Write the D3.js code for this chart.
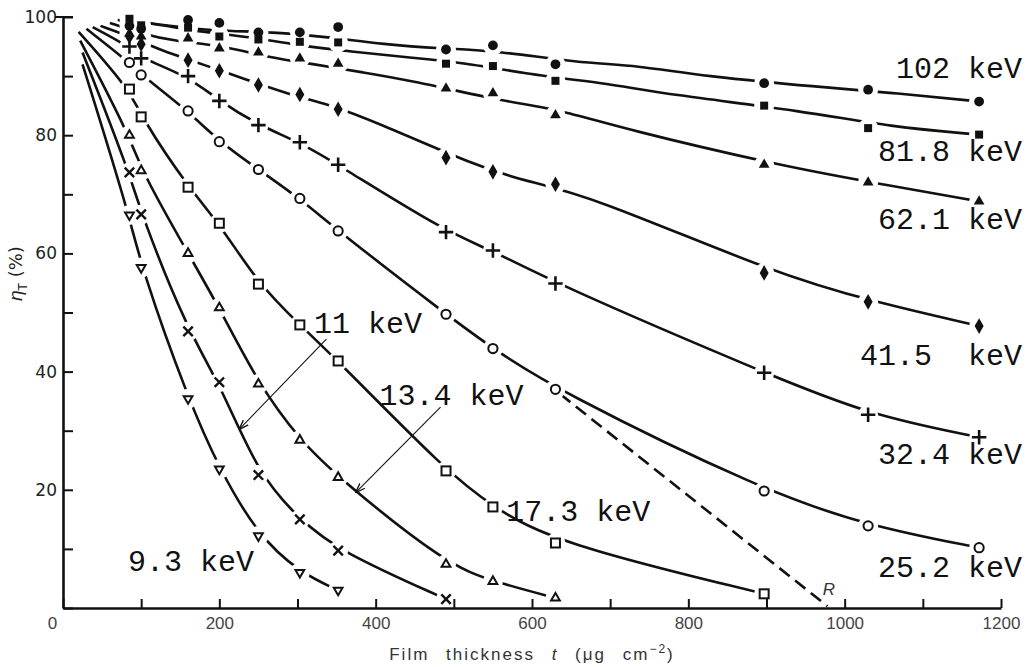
<!DOCTYPE html>
<html>
<head>
<meta charset="utf-8">
<script src="https://cdn.jsdelivr.net/npm/d3@7"></script>
<style>
  body { margin: 0; background: #fff; }
  svg { display: block; }
  .energy { font-family: "Liberation Mono", monospace; font-size: 30px; fill: #111; }
  .xtick text { font-family: "Liberation Sans", sans-serif; font-size: 17px; fill: #444; }
  .ytick text { font-family: "DejaVu Sans", sans-serif; font-size: 17px; fill: #222; }
</style>
</head>
<body>
<div id="chart"></div>
<script>

// ----------------------------------------------------------------
// Data
// ----------------------------------------------------------------

// film thickness of the samples, ug cm-2
const thickness = [85, 100, 160, 200, 250, 303, 352, 490, 550, 630, 897, 1030, 1172];

// transmission efficiency eta_T (%) per photon energy
const eta102 = [98.5, 98.0, 99.5, 99.0, 97.4, 97.4, 98.3, 94.5, 95.2, 92.0, 88.8, 87.7, 85.7];
const eta818 = [99.7, 98.6, 98.2, 96.7, 96.2, 95.8, 95.7, 92.1, 91.7, 89.2, 85.0, 81.2, 80.1];
const eta621 = [97.2, 96.7, 96.4, 94.7, 94.0, 93.0, 92.1, 87.9, 87.1, 83.4, 75.0, 72.0, 68.8];
const eta415 = [96.7, 95.4, 92.7, 90.9, 88.5, 86.9, 84.4, 76.2, 73.8, 71.7, 56.7, 51.8, 47.7];
const eta324 = [95.0, 93.0, 90.0, 85.8, 81.7, 78.8, 75.0, 63.6, 60.5, 54.9, 39.8, 32.7, 28.9];
const eta252 = [92.3, 90.2, 84.1, 78.9, 74.2, 69.3, 63.8, 49.7, 43.9, 37.0, 19.8, 13.9, 10.2];
const eta173 = [87.8, 83.1, 71.2, 65.1, 54.8, 47.9, 41.8, 23.2, 17.1, 11.0, 2.4];
const eta134 = [80.0, 74.0, 60.0, 50.8, 37.9, 28.4, 22.1, 7.4, 4.5, 1.7];
const eta110 = [73.7, 66.6, 46.8, 38.2, 22.5, 15.0, 9.7, 1.5];
const eta93 = [66.5, 57.6, 35.4, 23.5, 12.2, 6.0, 3.0];

const energyLabels = ["102 keV", "81.8 keV", "62.1 keV", "41.5  keV", "32.4 keV",
  "25.2 keV", "17.3 keV", "13.4 keV", "11 keV", "9.3 keV"];

// where each fitted curve begins (upper left)
const startThickness = [75, 70, 60, 48, 38, 30, 20, 22, 25, 25];
const startEta = [99.6, 99.5, 99.0, 98.5, 98.3, 98.0, 97.5, 96.0, 94.0, 92.0];

// dashed curve R
const rThickness = [636, 978];
const rEta = [36.2, 0.3];

const xTicks = [0, 100, 200, 300, 400, 500, 600, 700, 800, 900, 1000, 1100, 1200];
const yTicks = [0, 10, 20, 30, 40, 50, 60, 70, 80, 90, 100];

// ----------------------------------------------------------------
// Setup
// ----------------------------------------------------------------

const width = 1029;
const height = 667;
const seriesValues = [eta102, eta818, eta621, eta415, eta324, eta252, eta173, eta134, eta110, eta93];
const markerKinds = ["dot", "block", "tri", "diamond", "plus", "ring", "box", "opentri", "times", "downtri"];
// how closely each drawn curve follows its points (1 = plain b-spline)
const smoothing = [0.35, 0.5, 0.7, 0.85, 1, 1, 1, 1, 1, 1];

const svg = d3.select("#chart").append("svg")
  .attr("width", width)
  .attr("height", height);

svg.append("rect").attr("width", width).attr("height", height).attr("fill", "#fff");

const x = d3.scaleLinear().domain([0, 1200]).range([63, 1001]);
const y = d3.scaleLinear().domain([0, 100]).range([608, 17]);

svg.append("defs").append("marker")
  .attr("id", "arrow")
  .attr("viewBox", "0 0 10 10")
  .attr("refX", 9).attr("refY", 5)
  .attr("markerWidth", 9).attr("markerHeight", 9)
  .attr("orient", "auto")
  .append("path")
  .attr("d", "M0,1.5 L10,5 L0,8.5")
  .attr("fill", "none")
  .attr("stroke", "#111")
  .attr("stroke-width", 1.3);

// ----------------------------------------------------------------
// Curves
// ----------------------------------------------------------------

seriesValues.forEach(function (vals, i) {
  var pts = [[startThickness[i], startEta[i]]];
  vals.forEach((v, j) => pts.push([thickness[j], v]));
  var line = d3.line()
    .x(d => x(d[0]))
    .y(d => y(d[1]))
    .curve(d3.curveBundle.beta(smoothing[i]));
  svg.append("path")
    .datum(pts)
    .attr("d", line)
    .attr("fill", "none")
    .attr("stroke", "#111")
    .attr("stroke-width", 2.6);
});

svg.append("path")
  .datum(rThickness.map((t, i) => [t, rEta[i]]))
  .attr("d", d3.line().x(d => x(d[0])).y(d => y(d[1])))
  .attr("fill", "none")
  .attr("stroke", "#111")
  .attr("stroke-width", 2.6)
  .attr("stroke-dasharray", "13,7");

svg.append("text")
  .attr("x", x(972)).attr("y", y(2.2))
  .style("font-family", "Liberation Sans, sans-serif")
  .style("font-size", "17px")
  .style("font-style", "italic")
  .attr("fill", "#333")
  .text("R");

// ----------------------------------------------------------------
// Markers (white halo cuts the curve around each point)
// ----------------------------------------------------------------

const points = [];
seriesValues.forEach(function (vals, i) {
  vals.forEach((v, j) => points.push({ t: thickness[j], eta: v, kind: markerKinds[i] }));
});

svg.append("g").selectAll("circle")
  .data(points)
  .join("circle")
  .attr("cx", d => x(d.t))
  .attr("cy", d => y(d.eta))
  .attr("r", 10)
  .attr("fill", "#fff");

function drawMarker (g, d) {
  if (d.kind === "dot") {
    g.append("path").attr("d", d3.symbol(d3.symbolCircle, 75)()).attr("fill", "#111");
  } else if (d.kind === "block") {
    g.append("path").attr("d", d3.symbol(d3.symbolSquare, 64)()).attr("fill", "#111");
  } else if (d.kind === "tri") {
    g.append("path").attr("d", d3.symbol(d3.symbolTriangle, 50)()).attr("fill", "#111");
  } else if (d.kind === "diamond") {
    g.append("path").attr("d", d3.symbol(d3.symbolDiamond, 70)()).attr("fill", "#111");
  } else if (d.kind === "plus") {
    g.append("path").attr("d", d3.symbol(d3.symbolPlus, 70)())
      .attr("fill", "none").attr("stroke", "#111").attr("stroke-width", 2.6);
  } else if (d.kind === "times") {
    g.append("path").attr("d", d3.symbol(d3.symbolTimes, 60)())
      .attr("fill", "none").attr("stroke", "#111").attr("stroke-width", 2.4);
  } else if (d.kind === "ring") {
    g.append("circle").attr("r", 4.6)
      .attr("fill", "#fff").attr("stroke", "#111").attr("stroke-width", 2);
  } else if (d.kind === "box") {
    g.append("rect").attr("x", -4.5).attr("y", -4.5).attr("width", 9).attr("height", 9)
      .attr("fill", "#fff").attr("stroke", "#111").attr("stroke-width", 2);
  } else if (d.kind === "opentri") {
    g.append("path").attr("d", d3.symbol(d3.symbolTriangle2, 55)())
      .attr("fill", "#fff").attr("stroke", "#111").attr("stroke-width", 2);
  } else if (d.kind === "downtri") {
    g.append("path").attr("d", d3.symbol(d3.symbolTriangle2, 55)())
      .attr("transform", "rotate(180)")
      .attr("fill", "#fff").attr("stroke", "#111").attr("stroke-width", 2);
  }
}

svg.append("g").selectAll("g")
  .data(points)
  .join("g")
  .attr("transform", d => "translate(" + x(d.t) + "," + y(d.eta) + ")")
  .each(function (d) { drawMarker(d3.select(this), d); });

// ----------------------------------------------------------------
// Axes (drawn after the markers so the halos do not cut them)
// ----------------------------------------------------------------

const xAxis = d3.axisBottom(x)
  .tickValues(xTicks)
  .tickSizeInner(-9)
  .tickSizeOuter(0)
  .tickPadding(9)
  .tickFormat(d => d % 200 === 0 ? d : "");

const gx = svg.append("g")
  .attr("class", "xtick")
  .attr("transform", "translate(0," + y(0) + ")")
  .call(xAxis);
gx.selectAll(".tick text").filter(d => d === 0).attr("x", -11);

const yAxis = d3.axisLeft(y)
  .tickValues(yTicks)
  .tickSizeInner(-10)
  .tickSizeOuter(0)
  .tickPadding(6)
  .tickFormat(d => (d % 20 === 0 && d > 0) ? d : "");

const gy = svg.append("g")
  .attr("class", "ytick")
  .attr("transform", "translate(" + x(0) + ",0)")
  .call(yAxis);

svg.selectAll(".domain").attr("stroke", "#111").attr("stroke-width", 2.6);
svg.selectAll(".tick line").attr("stroke", "#111").attr("stroke-width", 2);

// cap at the top of the y axis
svg.append("line")
  .attr("x1", x(0) - 8).attr("x2", x(0) + 10)
  .attr("y1", y(100)).attr("y2", y(100))
  .attr("stroke", "#111").attr("stroke-width", 2);

// axis titles
const xTitle = svg.append("text")
  .attr("x", 532).attr("y", 660)
  .attr("text-anchor", "middle")
  .style("font-family", "Liberation Sans, sans-serif")
  .style("font-size", "17px")
  .style("letter-spacing", "2px")
  .style("word-spacing", "10px")
  .attr("fill", "#333");
xTitle.append("tspan").text("Film thickness ");
xTitle.append("tspan").style("font-style", "italic").text("t");
xTitle.append("tspan").text(" (\u03bcg cm");
xTitle.append("tspan").attr("dy", -7).style("font-size", "12px").text("\u22122");
xTitle.append("tspan").attr("dy", 7).text(")");

const yTitle = svg.append("text")
  .attr("transform", "translate(22,274) rotate(-90)")
  .attr("text-anchor", "middle")
  .style("font-family", "DejaVu Sans, sans-serif")
  .style("font-size", "18px")
  .attr("fill", "#222");
yTitle.append("tspan").style("font-style", "italic").text("\u03b7");
yTitle.append("tspan").attr("dy", 5).style("font-size", "12px").text("T");
yTitle.append("tspan").attr("dy", -5).text(" (%)");

// ----------------------------------------------------------------
// Energy labels and arrows
// ----------------------------------------------------------------

// [thickness, eta, anchor] for each label
const labelPlaces = [
  [1227, 89.7, "end"], [1227, 75.6, "end"], [1227, 64.1, "end"], [1227, 41.1, "end"],
  [1227, 24.4, "end"], [1227, 5.2, "end"], [567, 14.7, "start"], [405, 34.3, "start"],
  [321, 46.5, "start"], [83, 6.3, "start"]
];

svg.append("g").selectAll("text")
  .data(energyLabels)
  .join("text")
  .attr("class", "energy")
  .attr("x", (d, i) => x(labelPlaces[i][0]))
  .attr("y", (d, i) => y(labelPlaces[i][1]))
  .attr("text-anchor", (d, i) => labelPlaces[i][2])
  .attr("xml:space", "preserve")
  .style("white-space", "pre")
  .text(d => d);

const arrows = [
  [[337, 45.5], [226, 30.3]],
  [[483, 34.0], [375, 19.6]]
];
arrows.forEach(function (a) {
  svg.append("line")
    .attr("x1", x(a[0][0])).attr("y1", y(a[0][1]))
    .attr("x2", x(a[1][0])).attr("y2", y(a[1][1]))
    .attr("stroke", "#111")
    .attr("stroke-width", 1.1)
    .attr("marker-end", "url(#arrow)");
});

</script>
</body>
</html>
